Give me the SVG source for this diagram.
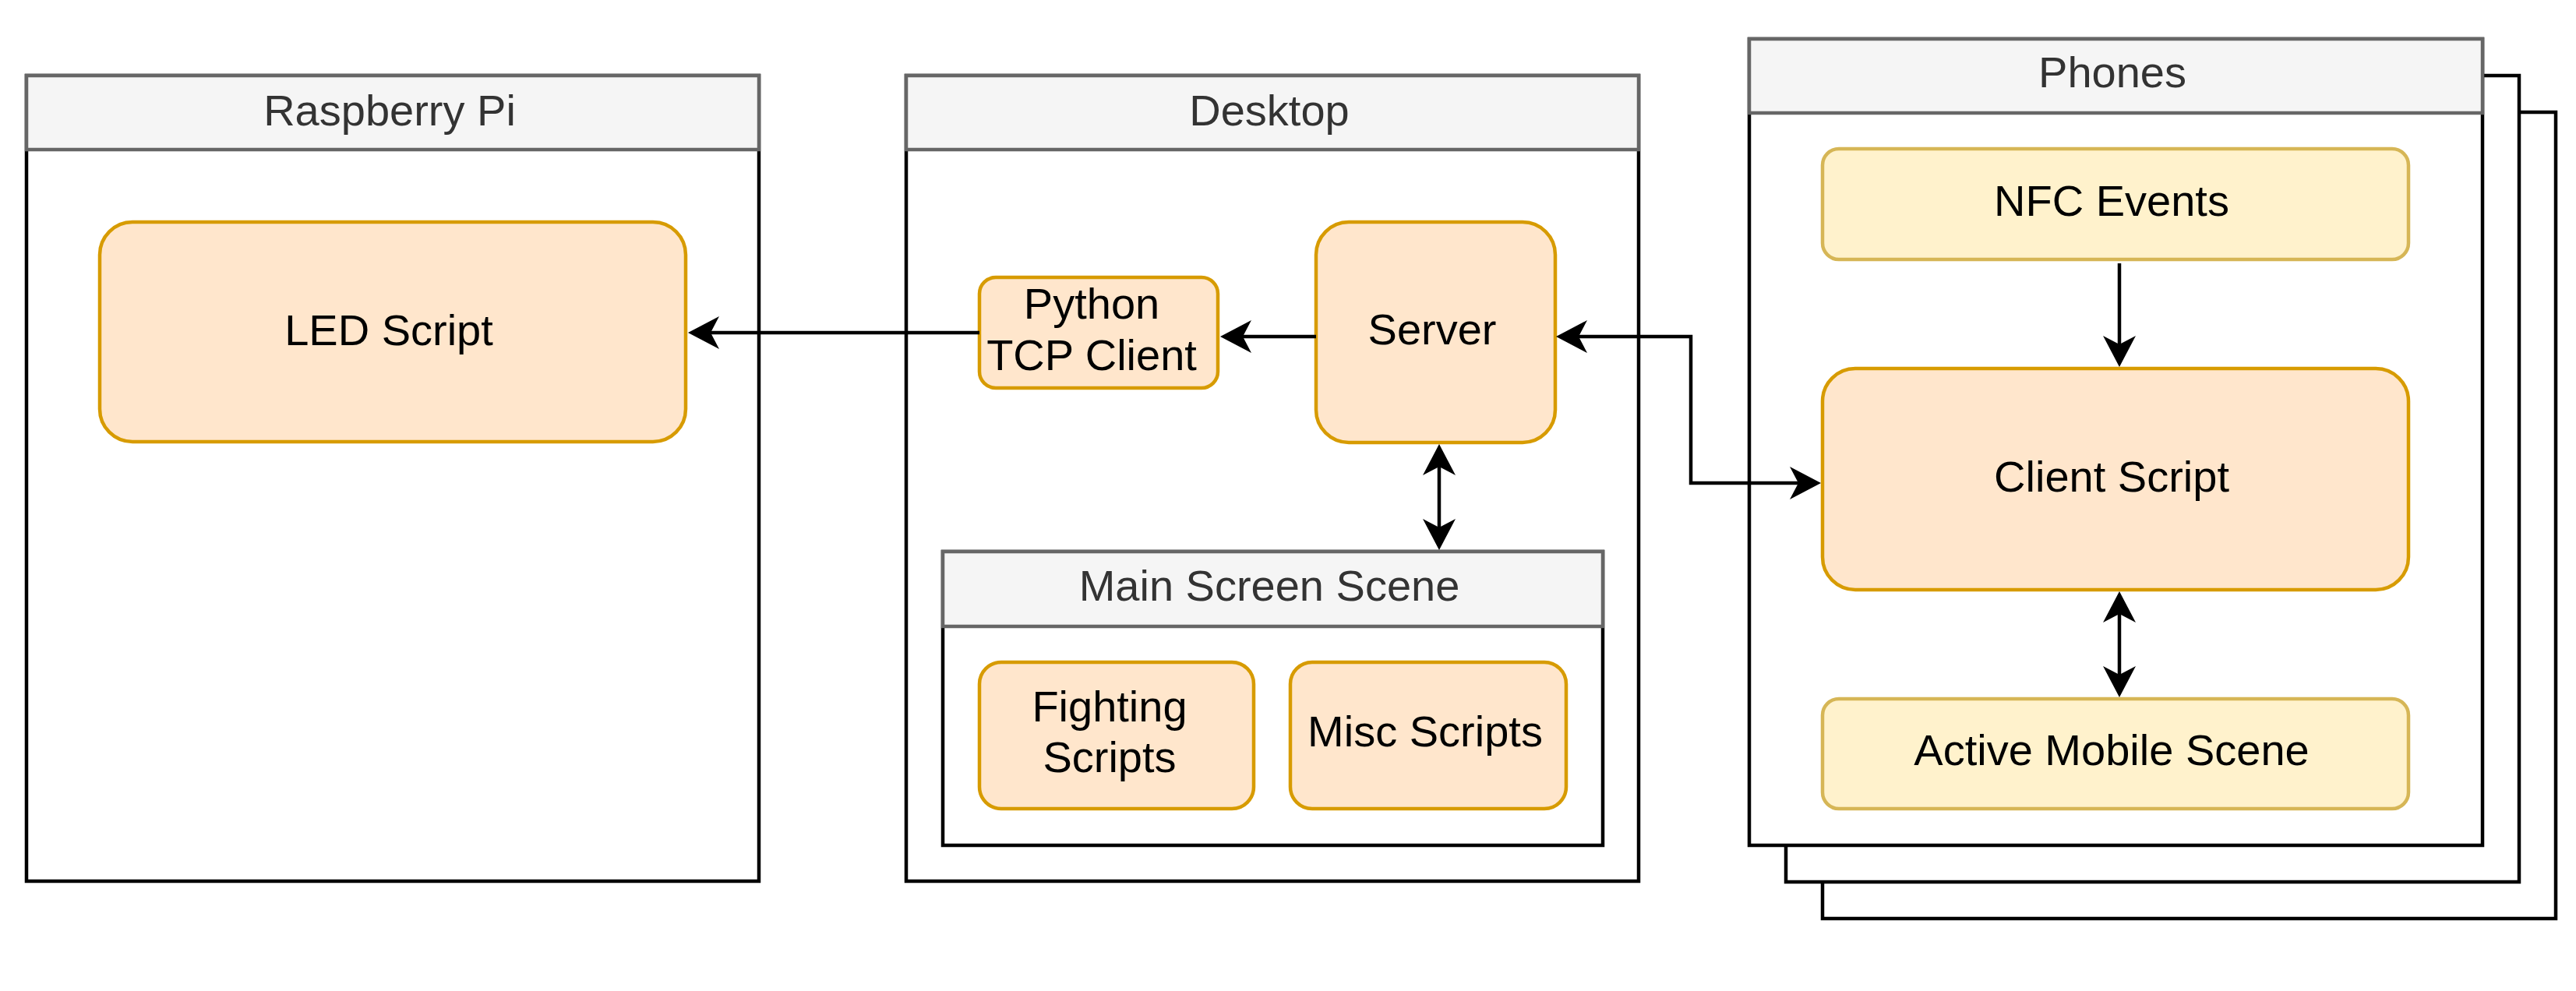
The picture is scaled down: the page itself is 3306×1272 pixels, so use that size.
<svg xmlns="http://www.w3.org/2000/svg" width="3306" height="1272" viewBox="0 0 3306 1272">
<style>
  .body{fill:#ffffff;stroke:#000000;stroke-width:4.5}
  .head{fill:#f5f5f5;stroke:#666666;stroke-width:4.5}
  .htxt{font-family:"Liberation Sans",Arial,sans-serif;font-size:56px;fill:#333333;text-anchor:middle}
  .node{fill:#ffe6cc;stroke:#d79b00;stroke-width:4.5}
  .ynode{fill:#fff2cc;stroke:#d6b656;stroke-width:4.5}
  .ntxt{font-family:"Liberation Sans",Arial,sans-serif;font-size:56px;fill:#000000;text-anchor:middle}
  .edge{fill:none;stroke:#000000;stroke-width:4.5}
</style>
<defs>
  <marker id="arr" viewBox="-12 -22 42 44" refX="0" refY="0" markerWidth="42" markerHeight="44" markerUnits="userSpaceOnUse" orient="auto-start-reverse">
    <path d="M29,0 L-11,-21 L0,0 L-11,21 Z" fill="#000000"/>
  </marker>
</defs>
<rect width="3306" height="1272" fill="#ffffff"/>

<g id="raspberry-pi">
  <rect class="body" x="34" y="97" width="940" height="1034"/>
  <rect class="head" x="34" y="97" width="940" height="95"/>
  <text class="htxt" x="500" y="161">Raspberry Pi</text>
</g>
<g id="led-script">
  <rect class="node" x="128" y="285" width="752" height="282" rx="42" ry="42"/>
  <text class="ntxt" x="499" y="443">LED Script</text>
</g>

<g id="desktop">
  <rect class="body" x="1163" y="97" width="940" height="1034"/>
  <rect class="head" x="1163" y="97" width="940" height="95"/>
  <text class="htxt" x="1629" y="161">Desktop</text>
</g>
<g id="python-tcp-client">
  <rect class="node" x="1257" y="356" width="306" height="142" rx="21" ry="21"/>
  <text class="ntxt" x="1401" y="409">Python</text>
  <text class="ntxt" x="1401" y="475">TCP Client</text>
</g>
<g id="server">
  <rect class="node" x="1689" y="285" width="307" height="283" rx="42" ry="42"/>
  <text class="ntxt" x="1838" y="442">Server</text>
</g>
<g id="main-screen-scene">
  <rect class="body" x="1210" y="708" width="847" height="377"/>
  <rect class="head" x="1210" y="708" width="847" height="96"/>
  <text class="htxt" x="1629" y="771">Main Screen Scene</text>
</g>
<g id="fighting-scripts">
  <rect class="node" x="1257" y="850" width="352" height="188" rx="28" ry="28"/>
  <text class="ntxt" x="1424" y="926">Fighting</text>
  <text class="ntxt" x="1424" y="991">Scripts</text>
</g>
<g id="misc-scripts">
  <rect class="node" x="1656" y="850" width="354" height="188" rx="28" ry="28"/>
  <text class="ntxt" x="1829" y="958">Misc Scripts</text>
</g>

<g id="phones">
  <rect class="body" x="2339" y="144" width="941" height="1035"/>
  <rect class="body" x="2292" y="97" width="941" height="1035"/>
  <rect class="body" x="2245" y="50" width="941" height="1035"/>
  <rect class="head" x="2245" y="50" width="941" height="95"/>
  <text class="htxt" x="2711" y="112">Phones</text>
</g>
<g id="nfc-events">
  <rect class="ynode" x="2339" y="191" width="752" height="142" rx="21" ry="21"/>
  <text class="ntxt" x="2710" y="277">NFC Events</text>
</g>
<g id="client-script">
  <rect class="node" x="2339" y="473" width="752" height="284" rx="42" ry="42"/>
  <text class="ntxt" x="2710" y="631">Client Script</text>
</g>
<g id="active-mobile-scene">
  <rect class="ynode" x="2339" y="897" width="752" height="141" rx="21" ry="21"/>
  <text class="ntxt" x="2710" y="982">Active Mobile Scene</text>
</g>

<g id="connectors">
  <path class="edge" d="M1257,427 L912,427" marker-end="url(#arr)"/>
  <path class="edge" d="M1689,432 L1595,432" marker-end="url(#arr)"/>
  <path class="edge" d="M2026,432 L2170,432 L2170,620 L2308,620" marker-start="url(#arr)" marker-end="url(#arr)"/>
  <path class="edge" d="M1847,599 L1847,677" marker-start="url(#arr)" marker-end="url(#arr)"/>
  <path class="edge" d="M2720,338 L2720,442" marker-end="url(#arr)"/>
  <path class="edge" d="M2720,788 L2720,866" marker-start="url(#arr)" marker-end="url(#arr)"/>
</g>
</svg>
